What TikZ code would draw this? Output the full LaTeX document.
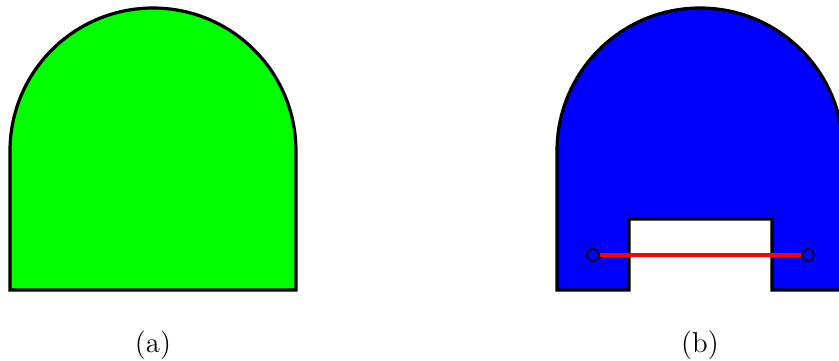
\documentclass[tikz,border=0pt]{standalone}
\usepackage{xcolor}
\usepackage{tikz}
\usetikzlibrary{positioning, calc}
\definecolor{mygreen}{RGB}{0,255,0}
\definecolor{myblue}{RGB}{0,0,255}
\definecolor{myred}{RGB}{255,0,0}
\tikzset{
  archshape/.style={draw=black, line width=1.6pt, line join=miter},
  chord/.style={draw=myred, line width=1.6pt},
  endring/.style={circle, draw=black, line width=0.8pt, inner sep=0pt, minimum size=6pt},
  caption/.style={font=\Large}
}

\begin{document}
\begin{tikzpicture}[x=0.5pt, y=-0.5pt]
  \useasboundingbox (0,0) rectangle (839,360);

  % (a) full arch
  \draw[archshape, fill=mygreen] (10,290) -- (10,151) arc[start angle=180, end angle=360, radius=143] -- (296,290) -- cycle;
  \node[caption] (capa) at (153,345) {(a)};

  % (b) arch with notch
  \draw[archshape, fill=myblue] (557,290) -- (557,151) arc[start angle=180, end angle=360, radius=143] -- (843,290) -- (772,290) -- (772,219) -- (629,219) -- (629,290) -- cycle;
  \node[endring] (ringl) at (593,255) {};
  \node[endring] (ringr) at (808,255) {};
  \draw[chord] (ringl) -- (ringr);
  \node[caption] (capb) at (700,345) {(b)};
\end{tikzpicture}
\end{document}
